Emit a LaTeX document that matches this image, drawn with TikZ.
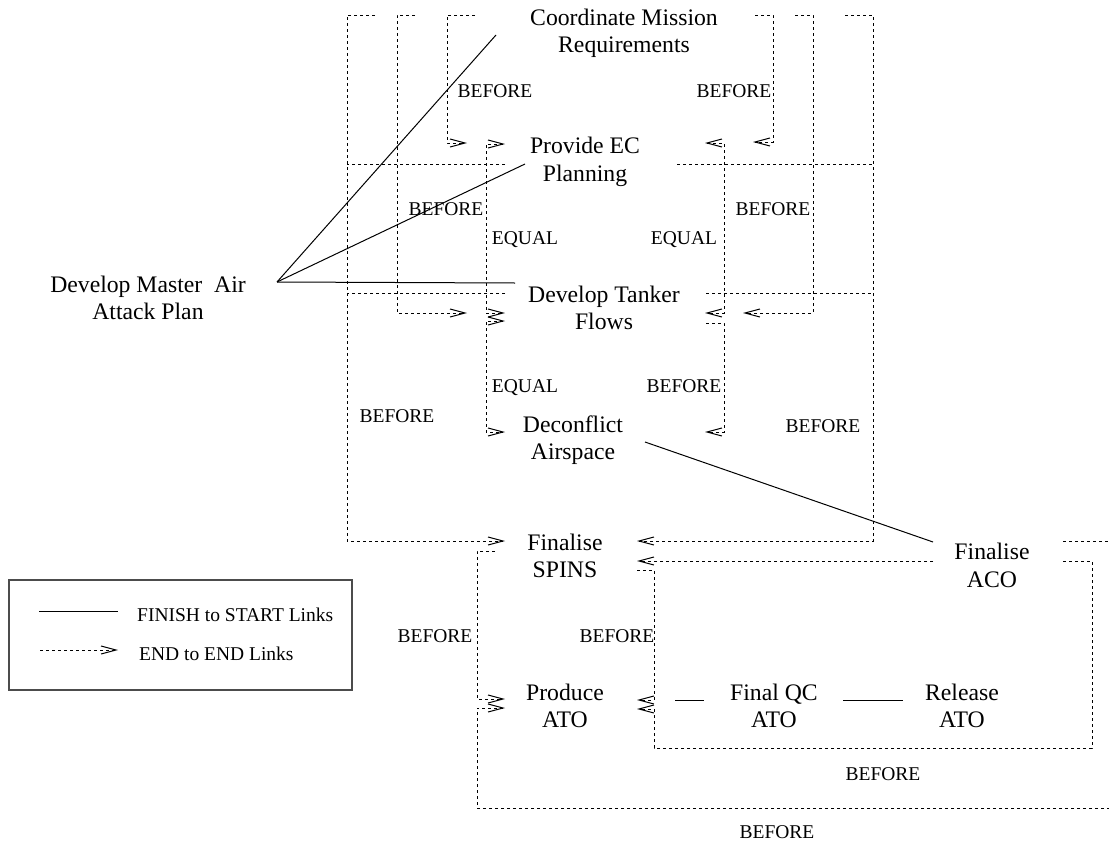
\documentclass[tikz,border=0pt]{standalone}
\usepackage{fontspec}
\setmainfont{Liberation Serif}
\usetikzlibrary{arrows.meta}

\tikzset{
  task/.style={align=center, inner sep=0pt, font=\fontsize{23.7}{27.5}\selectfont},
  rel/.style={anchor=base, inner sep=0pt, font=\fontsize{19.5}{22}\selectfont},
  fslink/.style={line width=1pt},
  eelink/.style={line width=1pt, dash pattern=on 2.6pt off 3.4pt},
  >={Straight Barb[length=15pt,width=8pt]}
}

\begin{document}
\begin{tikzpicture}[x=1pt,y=-1pt]
    \useasboundingbox (0,0) rectangle (1109,846);
    \clip (0,0) rectangle (1109,846);

    \node[task] (cmr) at (624,33.5) {Coordinate Mission\\Requirements};
    \node[task] (pec) at (585,162) {Provide EC\\Planning};
    \node[task] (dtf) at (604,308) {Develop Tanker\\Flows};
    \node[task] (dca) at (573,440) {Deconflict\\Airspace};
    \node[task] (fsp) at (565,556) {Finalise\\SPINS};
    \node[task] (aco) at (992,565.5) {Finalise\\ACO};
    \node[task] (pato) at (565,706) {Produce\\ATO};
    \node[task] (qc) at (774,706) {Final QC\\ATO};
    \node[task] (rls) at (962,706) {Release\\ATO};
    \node[task] (mpl) at (148,298) {Develop Master\ \ Air\\Attack Plan};

    \coordinate (cmr-l1) at (375,15);
    \coordinate (cmr-l2) at (415,15);
    \coordinate (cmr-l3) at (475,15);
    \coordinate (cmr-r1) at (755,15);
    \coordinate (cmr-r2) at (795,15);
    \coordinate (cmr-r3) at (845,15);
    \coordinate (cmr-s) at (496,35);
    \coordinate (pec-l) at (505,164);
    \coordinate (pec-r) at (677,164);
    \coordinate (pec-in-l1) at (467,143);
    \coordinate (pec-in-l2) at (505,144);
    \coordinate (pec-in-r1) at (753,142);
    \coordinate (pec-in-r2) at (705,143);
    \coordinate (pec-s) at (525,164);
    \coordinate (dtf-l) at (505,293);
    \coordinate (dtf-r) at (706,293);
    \coordinate (dtf-in-l1) at (467,313);
    \coordinate (dtf-in-l2) at (505,313);
    \coordinate (dtf-in-l3) at (505,321);
    \coordinate (dtf-in-r1) at (743,313);
    \coordinate (dtf-in-r2) at (705,313);
    \coordinate (dtf-out-r) at (706,323);
    \coordinate (dtf-s) at (515,283);
    \coordinate (dca-in-l) at (505,432);
    \coordinate (dca-in-r) at (705,432);
    \coordinate (dca-f) at (645,442);
    \coordinate (fsp-in-l) at (505,541);
    \coordinate (fsp-in-r1) at (637,541);
    \coordinate (fsp-in-r2) at (637,561);
    \coordinate (fsp-l) at (495,551);
    \coordinate (fsp-r) at (637,570);
    \coordinate (aco-s) at (933,542);
    \coordinate (aco-l) at (933,561);
    \coordinate (aco-r1) at (1063,541);
    \coordinate (aco-r2) at (1063,561);
    \coordinate (pato-in-l1) at (505,699);
    \coordinate (pato-in-l2) at (505,708);
    \coordinate (pato-in-r1) at (637,700);
    \coordinate (pato-in-r2) at (637,709);
    \coordinate (pato-f) at (675,700);
    \coordinate (qc-s) at (704,700);
    \coordinate (qc-f) at (843,700);
    \coordinate (rls-s) at (903,700);
    \coordinate (mpl-f) at (277,282);

    \draw[fslink] (mpl-f) -- (cmr-s);
    \draw[fslink] (mpl-f) -- (pec-s);
    \draw[fslink] (mpl-f) -- (dtf-s);
    \draw[fslink] (dca-f) -- (aco-s);
    \draw[fslink] (pato-f) -- (qc-s);
    \draw[fslink] (qc-f) -- (rls-s);

    \draw[eelink,->] (cmr-l1) -- (347,15) |- (fsp-in-l);
    \draw[eelink] (pec-l) -- (347,164);
    \draw[eelink] (dtf-l) -- (347,293);
    \draw[eelink,->] (cmr-l2) -- (397,15) |- (dtf-in-l1);
    \draw[eelink,->] (cmr-l3) -- (447,15) |- (pec-in-l1);
    \draw[eelink,<->] (pec-in-l2) -- (486,144) |- (dtf-in-l2);
    \draw[eelink,<->] (dtf-in-l3) -- (486,321) |- (dca-in-l);
    \draw[eelink,->] (cmr-r1) -- (773,15) |- (pec-in-r1);
    \draw[eelink,->] (cmr-r2) -- (813,15) |- (dtf-in-r1);
    \draw[eelink,->] (cmr-r3) -- (873,15) |- (fsp-in-r1);
    \draw[eelink] (pec-r) -- (873,164);
    \draw[eelink] (dtf-r) -- (873,293);
    \draw[eelink,<->] (pec-in-r2) -- (724,143) |- (dtf-in-r2);
    \draw[eelink,->] (dtf-out-r) -- (724,323) |- (dca-in-r);
    \draw[eelink,->] (fsp-l) -- (477,551) |- (pato-in-l1);
    \draw[eelink,->] (aco-r1) -- (1130,541) -- (1130,808) -- (477,808) |- (pato-in-l2);
    \draw[eelink,->] (aco-l) -- (fsp-in-r2);
    \draw[eelink,->] (aco-r2) -- (1092,561) -- (1092,748) -- (654,748) |- (pato-in-r2);
    \draw[eelink,->] (fsp-r) -- (654,570) |- (pato-in-r1);

    \node[rel] (lb1) at (495,97) {BEFORE};
    \node[rel] (lb2) at (734,97) {BEFORE};
    \node[rel] (lb3) at (446,215) {BEFORE};
    \node[rel] (lb4) at (773,215) {BEFORE};
    \node[rel] (lb5) at (525,244) {EQUAL};
    \node[rel] (lb6) at (684,244) {EQUAL};
    \node[rel] (lb7) at (525,392) {EQUAL};
    \node[rel] (lb8) at (684,392) {BEFORE};
    \node[rel] (lb9) at (397,422.5) {BEFORE};
    \node[rel] (lb10) at (823,432.5) {BEFORE};
    \node[rel] (lb11) at (435,642.5) {BEFORE};
    \node[rel] (lb12) at (617,642.5) {BEFORE};
    \node[rel] (lb13) at (883,780) {BEFORE};
    \node[rel] (lb14) at (777,838.5) {BEFORE};

    \draw[gray!60!black, line width=1.3pt] (9,580) rectangle (352,690);
    \coordinate (key-fs-a) at (39,611);
    \coordinate (key-fs-b) at (118,611);
    \coordinate (key-ee-a) at (40,650);
    \coordinate (key-ee-b) at (118,650);
    \draw[fslink] (key-fs-a) -- (key-fs-b);
    \draw[eelink,->] (key-ee-a) -- (key-ee-b);
    \node[rel, anchor=base west] (key-fs) at (137,621) {FINISH to START Links};
    \node[rel, anchor=base west] (key-ee) at (139,660) {END to END Links};
\end{tikzpicture}
\end{document}
